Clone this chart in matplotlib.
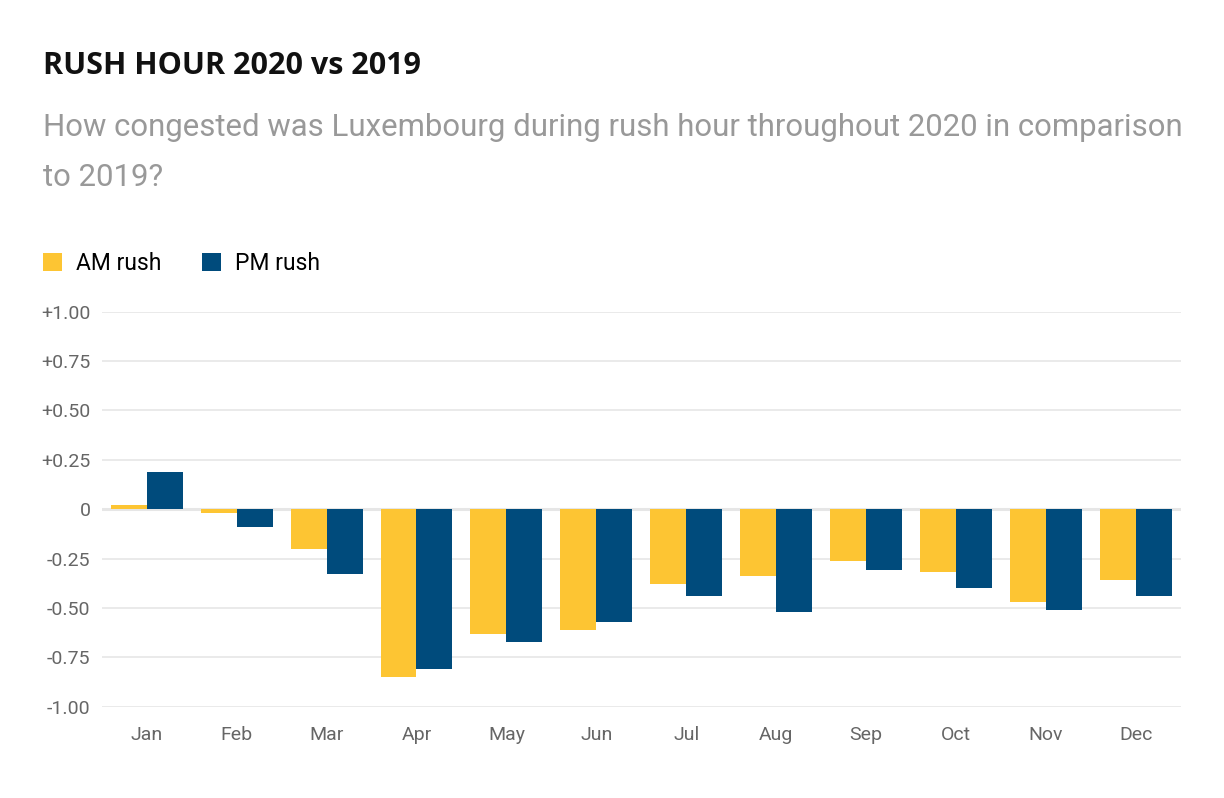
import numpy as np
import matplotlib.pyplot as plt

months = ['Jan', 'Feb', 'Mar', 'Apr', 'May', 'Jun',
          'Jul', 'Aug', 'Sep', 'Oct', 'Nov', 'Dec']
am_rush = [0.02, -0.02, -0.20, -0.85, -0.63, -0.61,
           -0.38, -0.34, -0.26, -0.32, -0.47, -0.36]
pm_rush = [0.19, -0.09, -0.33, -0.81, -0.67, -0.57,
           -0.44, -0.52, -0.31, -0.40, -0.51, -0.44]
yticks = [-1.0, -0.75, -0.5, -0.25, 0, 0.25, 0.5, 0.75, 1.0]
ytick_labels = ['-1.00', '-0.75', '-0.50', '-0.25', '0',
                '+0.25', '+0.50', '+0.75', '+1.00']

W, H = 1224, 798
fig = plt.figure(figsize=(W / 100, H / 100), dpi=100)
ax = fig.add_axes([101.7 / W, 91.3 / H, (1181 - 101.7) / W, (706.7 - 311.7) / H])

x = np.arange(len(months))
ax.bar(x - 0.2, am_rush, width=0.4, color='#FDC533', label='AM rush', zorder=3)
ax.bar(x + 0.2, pm_rush, width=0.4, color='#004B7C', label='PM rush', zorder=3)

ax.set_xlim(-0.5, 11.5)
ax.set_ylim(-1.0, 1.0)
ax.set_yticks(yticks)
ax.set_yticklabels(ytick_labels)
ax.set_xticks(x)
ax.set_xticklabels(months)
for y in yticks:
    ax.axhline(y, color='#e6e6e6', linewidth=1.2 if y != 0 else 2.2, zorder=1)
for s in ax.spines.values():
    s.set_visible(False)
ax.tick_params(length=0, labelsize=14, labelcolor='#666666')
ax.tick_params(axis='y', pad=8)
ax.tick_params(axis='x', pad=14)
for t in ax.get_xticklabels() + ax.get_yticklabels():
    t.set_family('Roboto')

# titulo y subtitulo
fig.text(43 / W, 1 - 66 / H, 'RUSH HOUR 2020 vs 2019', fontsize=22, fontweight='bold',
         family='Open Sans', color='#111111', va='center', ha='left')
fig.text(43 / W, 1 - 128 / H,
         'How congested was Luxembourg during rush hour throughout 2020 in comparison',
         fontsize=22.4, family='Roboto', color='#999999', va='center', ha='left')
fig.text(43 / W, 1 - 177 / H, 'to 2019?',
         fontsize=22.4, family='Roboto', color='#999999', va='center', ha='left')

fig.legend(loc='center left', bbox_to_anchor=(43 / W, 1 - 263 / H), ncol=2,
           frameon=False, borderpad=0, borderaxespad=0,
           handlelength=0.83, handleheight=0.83, handletextpad=0.6,
           columnspacing=1.8, prop={'family': 'Roboto', 'size': 16.5})

fig.savefig('out.png', dpi=100, facecolor='white')
